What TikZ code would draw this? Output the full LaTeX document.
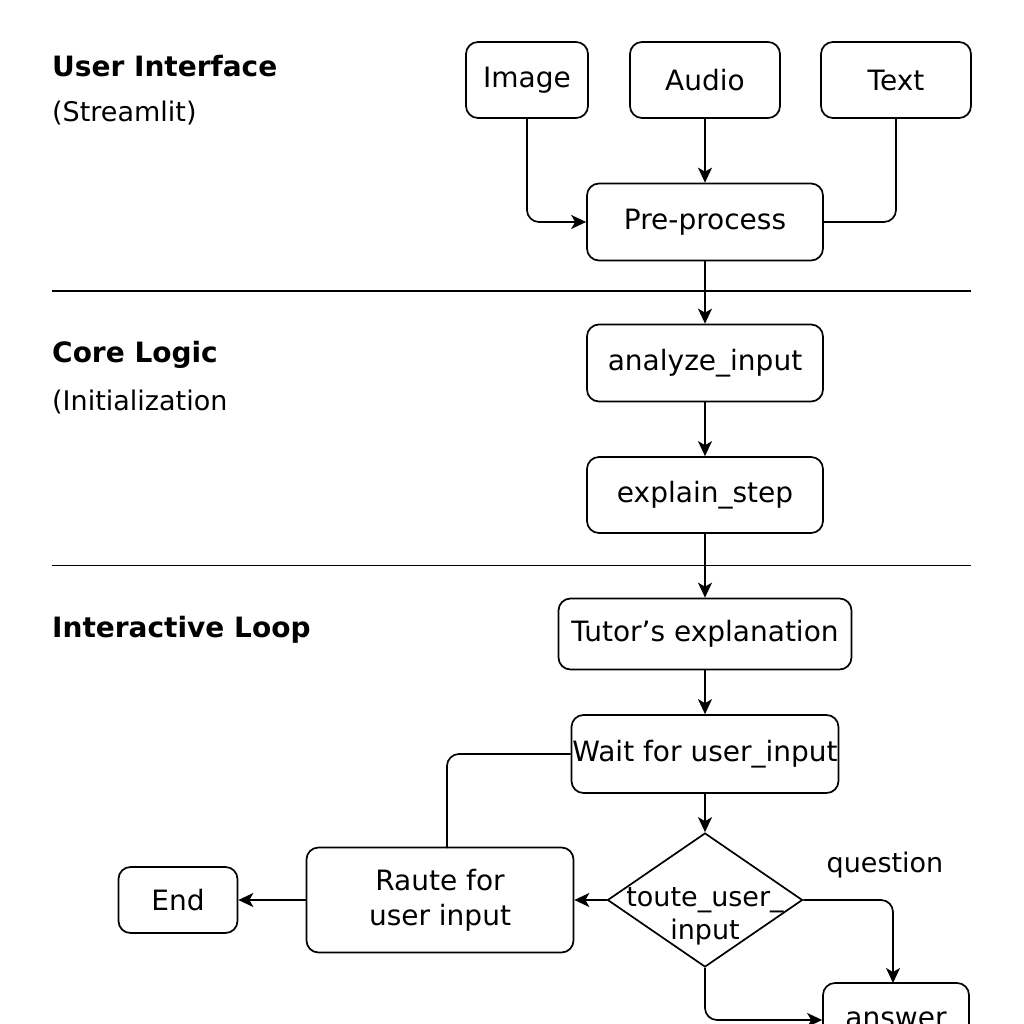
\documentclass[tikz,border=0pt]{standalone}
\usepackage{fontspec}
\setmainfont{DejaVu Sans}
\usetikzlibrary{arrows.meta,shapes.geometric}
\begin{document}
\begin{tikzpicture}[x=1pt,y=-1pt,
 box/.style={draw, line width=1.7pt, rounded corners=12pt, font=\fontsize{28}{36}\selectfont, inner sep=0pt, align=center},
 arr/.style={-{Stealth[length=15pt,width=14pt,inset=4pt]}, line width=1.7pt, rounded corners=12pt},
 ln/.style={line width=1.7pt, rounded corners=12pt},
 head/.style={font=\fontsize{28}{34}\selectfont\bfseries, anchor=base west, inner sep=0pt},
 sub/.style={font=\fontsize{27}{32}\selectfont, anchor=base west, inner sep=0pt},
 lbl/.style={font=\fontsize{27}{32}\selectfont, inner sep=0pt}]
\useasboundingbox[fill=white] (0,0) rectangle (1024,1024);

% headings
\node[head] (h1) at (52,77) {User Interface};
\node[sub]  (s1) at (52,122) {(Streamlit)};
\node[head] (h2) at (52,362) {Core Logic};
\node[sub]  (s2) at (52,410) {(Initialization};
\node[head] (h3) at (52,637) {Interactive Loop};

% separators
\coordinate (l1a) at (52,291); \coordinate (l1b) at (971,291);
\coordinate (l2a) at (52,565); \coordinate (l2b) at (971,565);
\draw[line width=1.5pt] (l1a) -- (l1b);
\draw[line width=0.8pt] (l2a) -- (l2b);

% boxes
\node[box, minimum width=122pt, minimum height=76pt] (image) at (527,80) {Image};
\node[box, minimum width=150pt, minimum height=76pt] (audio) at (705,80) {Audio};
\node[box, minimum width=150pt, minimum height=76pt] (text)  at (896,80) {Text};
\node[box, minimum width=236pt, minimum height=77pt] (pre)   at (705,222) {Pre-process};
\node[box, minimum width=236pt, minimum height=77pt] (ana)   at (705,363) {analyze\_input};
\node[box, minimum width=236pt, minimum height=76pt] (exp)   at (705,495) {explain\_step};
\node[box, minimum width=293pt, minimum height=71pt] (tut)   at (705,634) {Tutor’s explanation};
\node[box, minimum width=267pt, minimum height=78pt] (wait)  at (705,754) {Wait for user\_input};
\node[draw, diamond, line width=1.7pt, minimum width=195pt, minimum height=134pt, inner sep=0pt] (dia) at (705,900) {};
\node[lbl, align=center] (diatext) at (705,916) {toute\_user\_\\[1pt]input};
\node[box, minimum width=267pt, minimum height=105pt] (raute) at (440,900) {Raute for\\[-1pt]user input};
\node[box, minimum width=119pt, minimum height=66pt] (end)   at (178,900) {End};
\node[box, minimum width=146pt, minimum height=74pt] (answer) at (896,1020) {answer};
\node[lbl] (q) at (885,865) {question};

% connectors
\draw[arr] (image.south) |- (pre.west);
\draw[arr] (audio) -- (pre);
\draw[ln]  (text.south) |- (pre.east);
\draw[arr] (pre) -- (ana);
\draw[arr] (ana) -- (exp);
\draw[arr] (exp) -- (tut);
\draw[arr] (tut) -- (wait);
\draw[arr] (wait) -- (dia);
\draw[arr] (dia.west) -- (raute.east);
\draw[arr] (raute.west) -- (end.east);
\coordinate (rtop) at (447,848);
\draw[ln] (wait.west) -| (rtop);
\coordinate (atop) at (893,983);
\draw[arr] (dia.east) -| (atop);
\draw[arr] (dia.south) |- (answer.west);
\end{tikzpicture}
\end{document}
